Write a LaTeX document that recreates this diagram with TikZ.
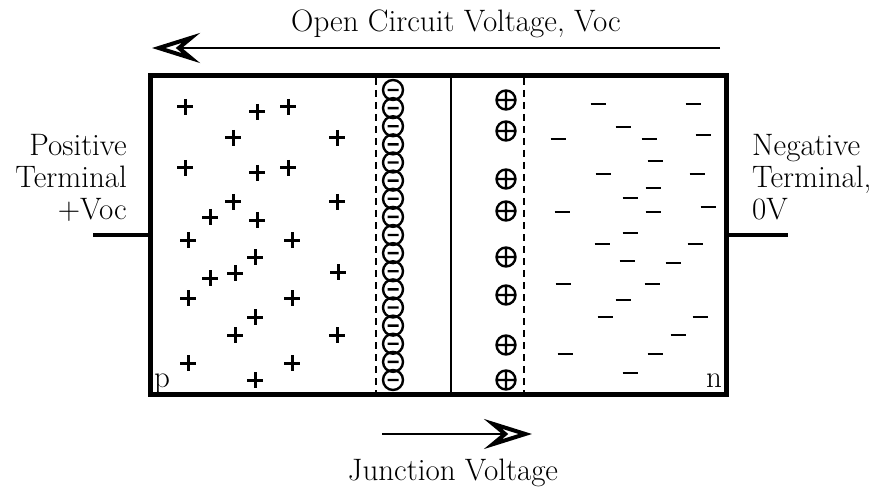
\documentclass[tikz,border=0pt]{standalone}
\usepackage{fontspec}
\usetikzlibrary{arrows.meta}
\begin{document}
\begin{tikzpicture}[
  x=1pt, y=-1pt,
  font=\fontsize{31}{32}\selectfont,
  cellbox/.style={draw, line width=4.5pt, minimum width=576pt, minimum height=319pt, inner sep=0pt},
  lbl/.style={inner sep=0pt},
  lead/.style={line width=4.5pt},
  junc/.style={line width=2.5pt, dash pattern=on 7pt off 5pt},
  mid/.style={line width=2.5pt},
  hole/.style={line width=3pt},
  elec/.style={line width=2.5pt},
  ion/.style={line width=2.4pt},
  varr/.style={line width=2.5pt, -{Stealth[open, length=48pt, width=30pt, inset=18pt, line width=4pt]}}
]
  \useasboundingbox (0,0) rectangle (875,489);
  % cell and terminals
  \node[cellbox] (cell) at (438.5,235) {};
  \coordinate (plead) at (93,235);
  \coordinate (nlead) at (788,235);
  \draw[lead] (cell.west) -- (plead);
  \draw[lead] (cell.east) -- (nlead);
  \node[lbl, anchor=east, align=right] (ptext) at (127,177.5) {Positive\\Terminal\\+Voc};
  \node[lbl, anchor=west, align=left] (ntext) at (752,177.5) {Negative\\Terminal,\\0V};
  % depletion region
  \draw[junc] (376,78) -- (376,393);
  \draw[junc] (524,78) -- (524,393);
  \draw[mid] (451,77) -- (451,394);
  \foreach \i in {0,...,16}
    \draw[ion] (393,90+18.125*\i) circle (10pt) +(-5.5,0) -- +(5.5,0);
  \foreach \y in {100,131,179,211,257,295,345,380}
    \draw[ion] (506,\y) circle (9.5pt) +(-9.5,0) -- +(9.5,0) +(0,-9.5) -- +(0,9.5);
  % holes in p region
  \foreach \x/\y in {185/107,257/112,288/107,233/138,337/138,185/168,257/173,288/168,
                     233/202,337/202,210/217,257/220,188/240,292/240,255/257,210/278,
                     235/273,338/272,188/298,292/298,255/317,235/335,337/335,188/363,
                     292/363,255/380}
    \draw[hole] (\x-8,\y) -- (\x+8,\y) (\x,\y-8) -- (\x,\y+8);
  % electrons in n region
  \foreach \x/\y in {598/104,693/104,623/127,558/139,649/139,703/135,655/161,603/174,
                     697/174,653/188,630/198,562/212,653/212,708/207,630/233,602/244,
                     695/244,627/261,673/263,563/284,652/284,623/300,605/317,700/317,
                     678/335,565/354,655/354,630/373}
    \draw[elec] (\x-7.5,\y) -- (\x+7.5,\y);
  \node[lbl, anchor=base] (ptype) at (162,387) {p};
  \node[lbl, anchor=base] (ntype) at (714,387) {n};
  % voltage arrows
  \coordinate (ocR) at (720,48);
  \coordinate (ocL) at (152,48);
  \draw[varr] (ocR) -- (ocL);
  \node[lbl, anchor=base] (octext) at (456,32) {Open Circuit Voltage, Voc};
  \coordinate (jvL) at (382,434);
  \coordinate (jvR) at (532,434);
  \draw[varr] (jvL) -- (jvR);
  \node[lbl, anchor=base] (jvtext) at (453,480) {Junction Voltage};
\end{tikzpicture}
\end{document}
